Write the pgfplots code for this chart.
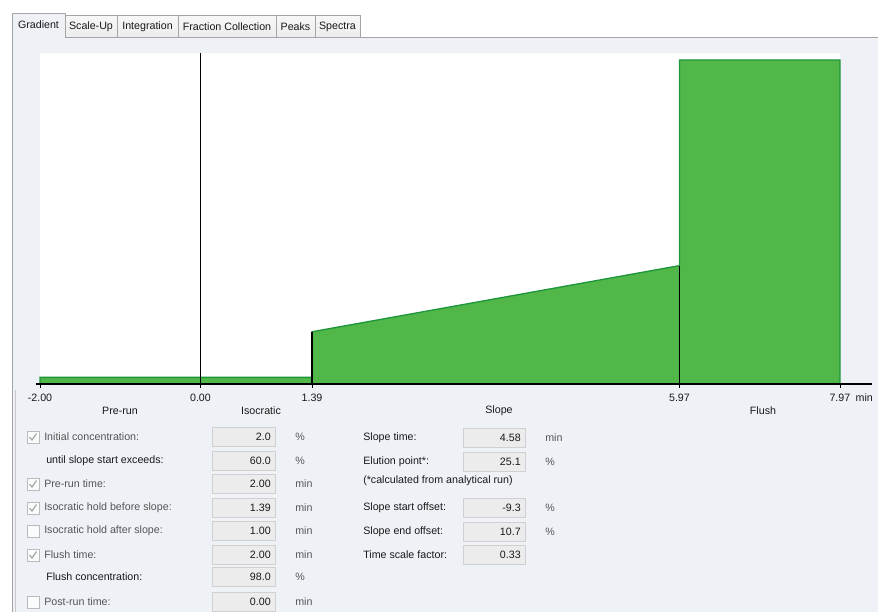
\documentclass[border=0pt]{standalone}
\usepackage{pgfplots}
\pgfplotsset{compat=1.18}
\usepackage{fontspec}
\setmainfont{Liberation Sans}

\definecolor{uibg}{RGB}{238,241,246}
\definecolor{flowgreen}{RGB}{80,183,72}
\definecolor{edgegreen}{RGB}{30,150,60}
\definecolor{tabline}{RGB}{165,165,165}
\definecolor{tabfill}{RGB}{236,236,236}
\definecolor{fieldbg}{RGB}{236,236,236}
\definecolor{fieldline}{RGB}{208,208,208}
\definecolor{labgray}{RGB}{85,85,85}
\definecolor{txt}{RGB}{25,25,25}

% gradient segments: start, end (min) and concentration (%)
\pgfplotstableread{
x      y
-2.00  0
-2.00  2.0
1.39   2.0
1.39   15.8
5.97   35.8
5.97   98.0
7.97   98.0
7.97   0
}\gradienttable

\begin{document}
\begin{tikzpicture}[font=\fontsize{8}{9.6}\selectfont]
\begin{scope}[x=0.75pt,y=-0.75pt]
\useasboundingbox (0,0) rectangle (878,612);
\fill[white] (0,0) rectangle (878,612);
\fill[uibg] (12,37) rectangle (878,612);

% tabs
\foreach \a/\b/\t in {65/117/Scale-Up,117/178/Integration,178/276/Fraction Collection,276/315/Peaks,315/360/Spectra}{
  \draw[tabline, top color=white!60!tabfill, bottom color=tabfill] (\a,37) -- (\a,15) -- (\b,15) -- (\b,37);
  \node[txt] at ({(\a+\b)/2},26.5) {\t};
}
\fill[uibg] (12,13) rectangle (65,38);
\draw[tabline] (12,612) -- (12,13) -- (65,13) -- (65,37) -- (878,37);
\node[txt] at (38.5,24.5) {Gradient};
\draw[tabline!60] (15,390) -- (15,612);
\end{scope}

\begin{axis}[
  at={(27pt,-288pt)}, anchor=south west,
  scale only axis, width=627pt, height=248pt,
  xmin=-2.05, xmax=8.37, ymin=0, ymax=100,
  axis x line=bottom, axis y line=none,
  axis line style={-, black, line width=0.9pt},
  xtick={-2,0,1.39,5.97,7.97},
  xticklabels={-2.00,0.00,1.39,5.97,7.97\rlap{\hspace{4pt}min}},
  xticklabel style={font=\fontsize{8}{9.6}\selectfont, text=txt, yshift=-1pt},
  tick align=outside, major tick length=3pt,
  tick style={black, line width=0.6pt},
  axis on top, clip=false,
]
\addplot[fill=white, draw=none] coordinates {(-2,0) (-2,100) (7.97,100) (7.97,0)} \closedcycle;
\addplot[fill=flowgreen, draw=edgegreen, line width=1pt] table {\gradienttable} \closedcycle;
\addplot[black, line width=1.2pt] coordinates {(0,0) (0,100)};
\addplot[black, line width=1pt] coordinates {(1.39,0) (1.39,15.8)};
\addplot[black, line width=0.7pt] coordinates {(5.97,0) (5.97,35.8)};
\end{axis}

\begin{scope}[x=0.75pt,y=-0.75pt]
% phase names
\node[txt] at (120,411) {Pre-run};
\node[txt] at (261,411) {Isocratic};
\node[txt] at (499,411) {Slope};
\node[txt] at (763,411) {Flush};

% left column of settings
\foreach \y/\c/\l/\v/\u in {
  437/c/Initial concentration:/2.0/\%,
  461/n/until slope start exceeds:/60.0/\%,
  484/c/Pre-run time:/2.00/min,
  508/c/Isocratic hold before slope:/1.39/min,
  531/u/Isocratic hold after slope:/1.00/min,
  555/c/Flush time:/2.00/min,
  577/n/Flush concentration:/98.0/\%,
  602/u/Post-run time:/0.00/min}{
  \if\c n
    \node[txt, anchor=west, inner sep=0pt] at (46,\y) {\l};
  \else
    \draw[fieldline!90!black, fill=white!70!uibg] (27,\y-6) rectangle (39,\y+6);
    \if\c c
      \draw[gray!70, line width=0.9pt] (29.5,\y) -- (32,\y+3) -- (36.5,\y-3.5);
    \fi
    \node[labgray, anchor=west, inner sep=0pt] at (44,\y) {\l};
  \fi
  \draw[fieldline, fill=fieldbg] (212,\y-9.5) rectangle (275,\y+9.5);
  \node[txt, anchor=east, inner sep=0pt] at (271,\y) {\v};
  \node[labgray, anchor=west, inner sep=0pt] at (295,\y) {\u};
}

% right column of settings
\foreach \y/\l/\v/\u in {
  438/Slope time:/4.58/min,
  462/Elution point*:/25.1/\%,
  508/Slope start offset:/-9.3/\%,
  532/Slope end offset:/10.7/\%,
  555/Time scale factor:/0.33/}{
  \node[txt, anchor=west, inner sep=0pt] at (363,\y) {\l};
  \draw[fieldline, fill=fieldbg] (463,\y-9.5) rectangle (525,\y+9.5);
  \node[txt, anchor=east, inner sep=0pt] at (521,\y) {\v};
  \node[labgray, anchor=west, inner sep=0pt] at (545,\y) {\u};
}
\node[txt, anchor=west, inner sep=0pt] at (363,481) {(*calculated from analytical run)};
\end{scope}
\end{tikzpicture}
\end{document}
